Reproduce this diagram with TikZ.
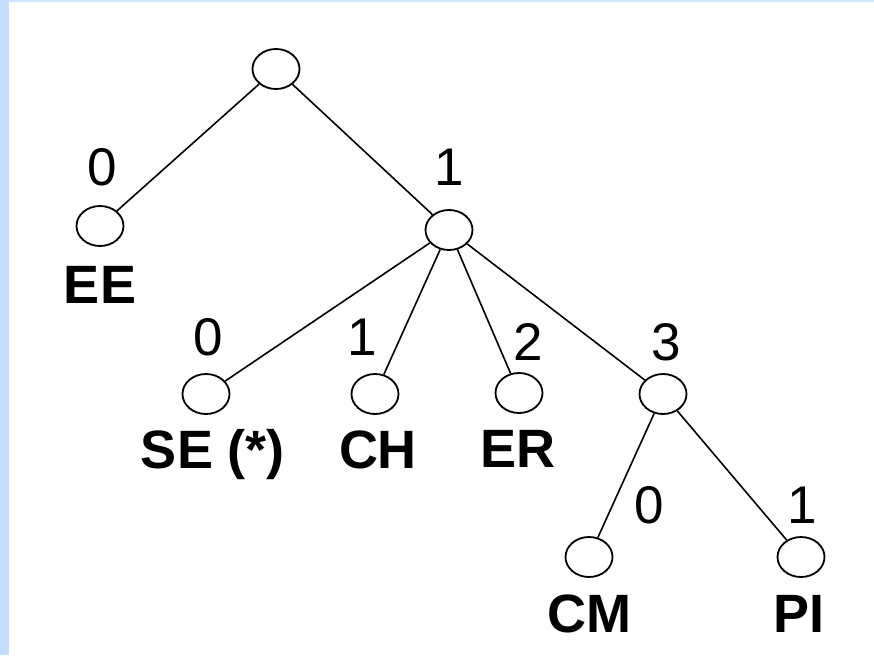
\documentclass[tikz,border=0pt]{standalone}
\usepackage{fontspec}
\setmainfont{Liberation Sans}
\usetikzlibrary{shapes.geometric}
\definecolor{bandblue}{RGB}{197,222,255}
\definecolor{bandtop}{RGB}{208,230,255}
\begin{document}
\begin{tikzpicture}[x=1pt,y=-1pt,
  tnode/.style={ellipse,draw=black,line width=1.8pt,minimum width=47pt,minimum height=40pt,inner sep=0pt},
  conn/.style={line width=1.6pt,black},
  numlabel/.style={anchor=base,inner sep=0pt,font=\fontsize{53}{60}\selectfont},
  leafname/.style={anchor=base,inner sep=0pt,font=\fontsize{54}{60}\selectfont\bfseries}]
\useasboundingbox (0,0) rectangle (874,655);
\fill[white] (0,0) rectangle (874,655);
\fill[bandblue] (0,0) rectangle (8.7,655);
\fill[bandtop] (8.7,0) rectangle (874,2.3);
% tree nodes
\node[tnode] (root) at (276,69) {};
\node[tnode] (ee) at (100,226) {};
\node[tnode] (n1) at (449,230) {};
\node[tnode] (se) at (206,394) {};
\node[tnode] (ch) at (375,394) {};
\node[tnode] (er) at (519,393) {};
\node[tnode] (n3) at (663,394) {};
\node[tnode] (cm) at (589,557) {};
\node[tnode] (pi) at (801,557) {};
% connectors
\draw[conn] (root) -- (ee);
\draw[conn] (root) -- (n1);
\draw[conn] (n1) -- (se);
\draw[conn] (n1) -- (ch);
\draw[conn] (n1) -- (er);
\draw[conn] (n1) -- (n3);
\draw[conn] (n3) -- (cm);
\draw[conn] (n3) -- (pi);
% edge numbers
\node[numlabel] (l0) at (102,185) {0};
\node[numlabel] (l1) at (449,185) {1};
\node[numlabel] (l10) at (208,355) {0};
\node[numlabel] (l11) at (362,355) {1};
\node[numlabel] (l12) at (528,360) {2};
\node[numlabel] (l13) at (666,360) {3};
\node[numlabel] (l130) at (649,523) {0};
\node[numlabel] (l131) at (802,523) {1};
% leaf names
\node[leafname] (tee) at (100,303) {EE};
\node[leafname] (tse) at (213,468) {SE (*)};
\node[leafname] (tch) at (378,468) {CH};
\node[leafname] (ter) at (518,467) {ER};
\node[leafname] (tcm) at (589,632) {CM};
\node[leafname] (tpi) at (799,632) {PI};
\end{tikzpicture}
\end{document}
